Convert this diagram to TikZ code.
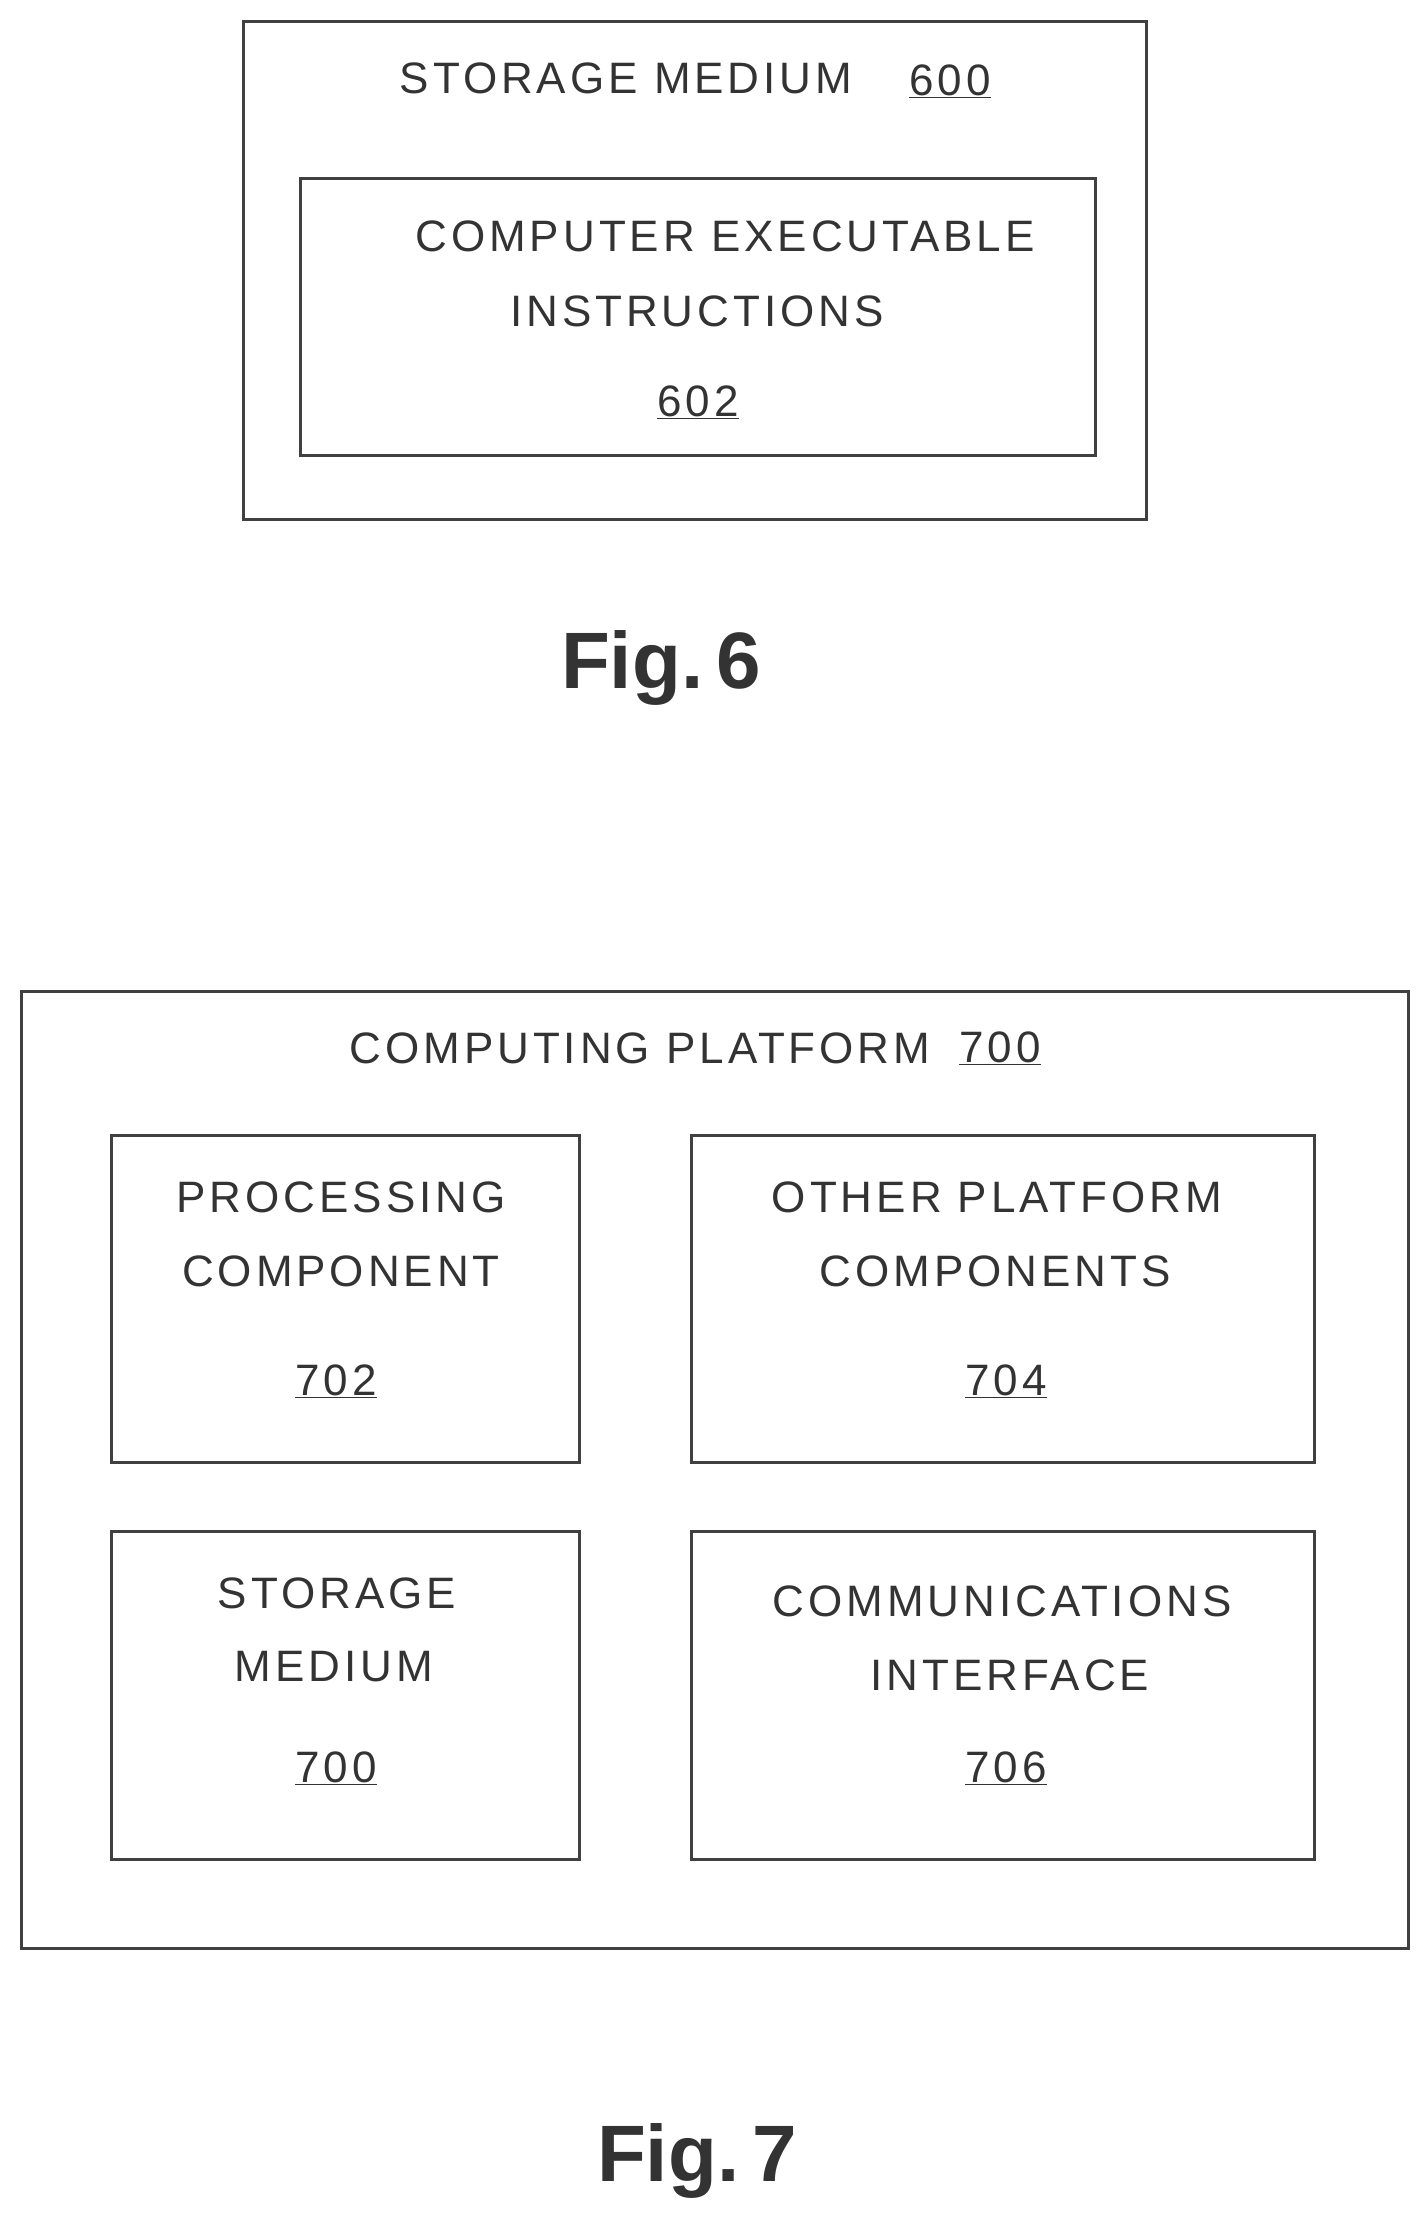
\documentclass[tikz,border=0pt]{standalone}
\usepackage{fontspec}
\setmainfont{Liberation Sans}[LetterSpace=9]
\newfontfamily\figfont{Liberation Sans}
\begin{document}
\begin{tikzpicture}[x=1pt,y=-1pt,
  box/.style={draw=black!75,line width=3pt},
  t/.style={font=\fontsize{44}{50}\selectfont,text=black!80,inner sep=0pt},
  fig/.style={font=\figfont\fontsize{80}{90}\selectfont\bfseries,text=black!80,inner sep=0pt}]
\useasboundingbox (0,0) rectangle (1422,2219);
\newcommand{\ul}[1]{\underline{#1}}
% Fig 6
\draw[box] (243,21) rectangle (1146,519);
\draw[box] (300,178) rectangle (1095,455);
\node[t] (sm) at (626,78) {STORAGE MEDIUM};
\node[t] (n600) at (950,81) {\ul{600}};
\node[t] (ce) at (725,236) {COMPUTER EXECUTABLE};
\node[t] (ins) at (697,311) {INSTRUCTIONS};
\node[t] (n602) at (698,402) {\ul{602}};
\node[fig] (f6) at (661,668) {Fig.\,6};
% Fig 7
\draw[box] (21,991) rectangle (1408,1948);
\node[t] (cp) at (640,1048) {COMPUTING PLATFORM};
\node[t] (n700a) at (1000,1048) {\ul{700}};
\draw[box] (111,1135) rectangle (579,1462);
\node[t] (a1) at (341,1197) {PROCESSING};
\node[t] (a2) at (341,1271) {COMPONENT};
\node[t] (a3) at (336,1381) {\ul{702}};
\draw[box] (691,1135) rectangle (1314,1462);
\node[t] (b1) at (997,1197) {OTHER PLATFORM};
\node[t] (b2) at (995,1271) {COMPONENTS};
\node[t] (b3) at (1006,1381) {\ul{704}};
\draw[box] (111,1531) rectangle (579,1859);
\node[t] (c1) at (337,1593) {STORAGE};
\node[t] (c2) at (334,1667) {MEDIUM};
\node[t] (c3) at (336,1768) {\ul{700}};
\draw[box] (691,1531) rectangle (1314,1859);
\node[t] (d1) at (1002,1601) {COMMUNICATIONS};
\node[t] (d2) at (1010,1675) {INTERFACE};
\node[t] (d3) at (1006,1768) {\ul{706}};
\node[fig] (f7) at (697,2161) {Fig.\,7};
\end{tikzpicture}
\end{document}
